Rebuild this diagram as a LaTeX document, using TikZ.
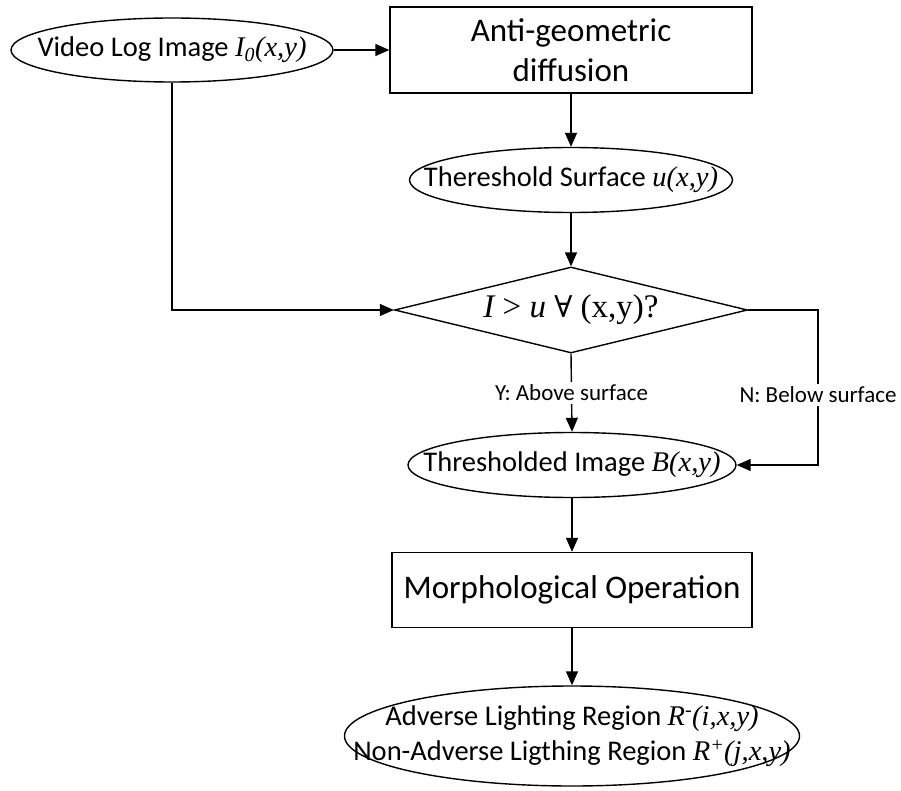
\documentclass[tikz,border=0pt]{standalone}
\usepackage{fontspec}
\setmainfont{Carlito}
\newfontfamily\tms{Liberation Serif}
\newfontfamily\dvs{DejaVu Serif}
\usetikzlibrary{shapes.geometric,arrows.meta}
\begin{document}
\begin{tikzpicture}[x=1pt,y=-1pt,
  line width=1.4pt,
  oval/.style={draw, ellipse, inner xsep=-100pt, inner ysep=-30pt,
    align=center, font=\fontsize{28.5}{35}\selectfont},
  proc/.style={draw, rectangle, inner sep=0pt, align=center,
    font=\fontsize{33}{40}\selectfont},
  decide/.style={draw, diamond, inner sep=0pt, aspect=4.1,
    minimum width=353pt, minimum height=86pt,
    font=\tms\fontsize{33}{40}\selectfont},
  flow/.style={-{Triangle[length=14pt,width=12pt]}},
  lbl/.style={fill=white, inner sep=3pt, font=\fontsize{23}{28}\selectfont}]
\useasboundingbox (0,0) rectangle (901,791);

% nodes
\node[oval, minimum width=322pt, minimum height=64pt] (src) at (172,50)
  {Video Log Image {\tms\itshape I\textsubscript{0}(x,y)}};
\node[proc, minimum width=362pt, minimum height=86pt] (agd) at (571,50)
  {Anti-geometric\\diffusion};
\node[oval, minimum width=323pt, minimum height=65pt] (surf) at (571,180)
  {Thereshold Surface {\tms\itshape u(x,y)}};
\node[decide] (cmp) at (571,310)
  {\itshape I\upshape\ > \itshape u\upshape\ {\dvs\fontsize{30}{36}\selectfont ∀} (x,y)?};
\node[oval, minimum width=328pt, minimum height=65pt] (bin) at (572,465)
  {Thresholded Image {\tms\itshape B(x,y)}};
\node[proc, minimum width=360pt, minimum height=75pt] (morph) at (572,590)
  {Morphological Operation};
\node[oval, minimum width=455pt, minimum height=100pt] (reg) at (572,736)
  {Adverse Lighting Region {\tms\itshape R\textsuperscript{-}(i,x,y)}\\
   Non-Adverse Ligthing Region {\tms\itshape R\textsuperscript{+}(j,x,y)}};

\coordinate (nturn) at (818,395);

% connectors
\draw[flow] (src) -- (agd);
\draw[flow] (agd) -- (surf);
\draw[flow] (surf) -- (cmp);
\draw[flow] (src.south) |- (cmp.west);
\draw[flow] (cmp.south) -- node[lbl] {Y: Above surface} (bin.north);
\draw[flow] (cmp.east) -| (nturn) |- (bin.east);
\node[lbl] at (nturn) {N: Below surface};
\draw[flow] (bin) -- (morph);
\draw[flow] (morph) -- (reg);
\end{tikzpicture}
\end{document}
